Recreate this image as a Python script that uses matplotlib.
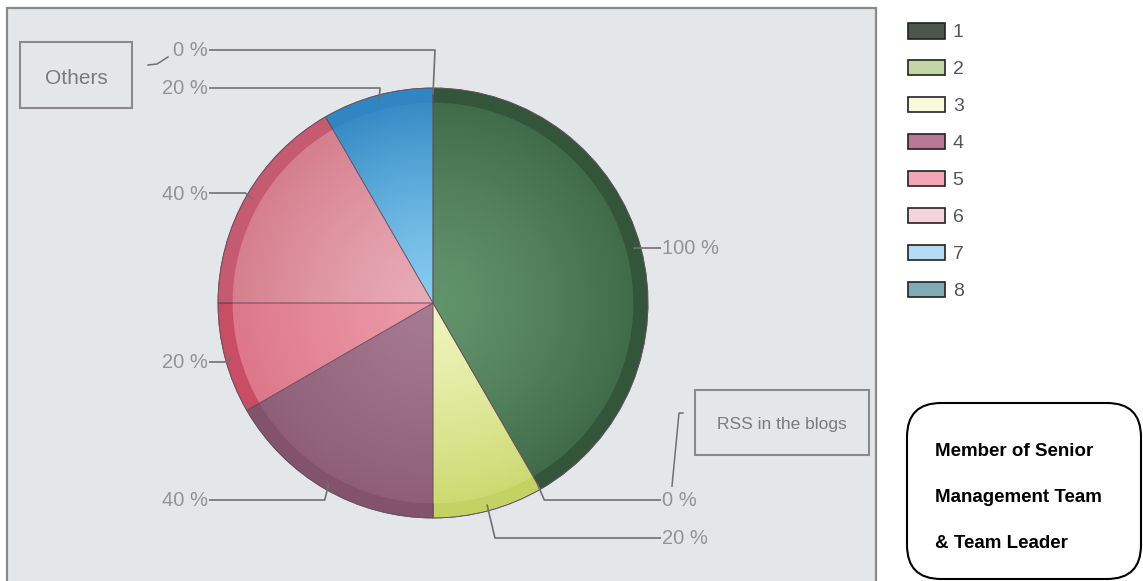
import numpy as np
import matplotlib
matplotlib.use("Agg")
import matplotlib.pyplot as plt
from matplotlib.patches import Rectangle, FancyBboxPatch, Patch
from matplotlib.colors import to_rgb

plt.rcParams['font.family'] = ['Liberation Sans', 'DejaVu Sans']

# data
slices = ['1', '2', '3', '4', '5', '6', '7', '8']
values = [5, 0, 1, 2, 1, 2, 1, 0]
legend_colors = ['#4b574c', '#c4d6a8', '#f6fad8', '#b87896', '#f4a6b6',
                 '#f6d4dc', '#b4dcf6', '#80aab4']
# slice shading: (centre, edge, rim)
shades = [('#62946b', '#3d6847', '#33563a'),
          ('#d0e0b8', '#b8cc98', '#b8cc98'),
          ('#eef5bc', '#c9d86a', '#c4d264'),
          ('#a67a90', '#8c5c76', '#83536c'),
          ('#ec9aa8', '#dc7488', '#c94d64'),
          ('#e8acb6', '#d47a8a', '#c65a70'),
          ('#86ccf0', '#2f86c2', '#2f86c2'),
          ('#8ab4bc', '#6a9aa4', '#6a9aa4')]
box_left = 'Others'
box_right = 'RSS in the blogs'
note_lines = ['Member of Senior', 'Management Team', '& Team Leader']

W, H = 1143, 581
def Y(y):
    return H - y

fig = plt.figure(figsize=(W / 100, H / 100), dpi=100)
ax = fig.add_axes([0, 0, 1, 1])
ax.axis('off')

# grey plot panel
ax.add_patch(Rectangle((7, Y(600)), 869, 592, facecolor='#e4e7ea',
                       edgecolor='#8a8a8a', lw=1.6, zorder=0))

cx, cy, R = 433, Y(303), 215
rim, _ = ax.pie(values, colors=[s[2] for s in shades], startangle=90,
                counterclock=False, center=(cx, cy), radius=R,
                wedgeprops=dict(edgecolor='#5c4c58', linewidth=0.6))
inner, _ = ax.pie(values, colors=['none'] * len(values), startangle=90,
                  counterclock=False, center=(cx, cy), radius=R * 0.932,
                  wedgeprops=dict(linewidth=0))

# radial gradient fill clipped to each inner wedge
n = 400
gx, gy = np.meshgrid(np.linspace(-1, 1, n), np.linspace(-1, 1, n))
t = np.clip(np.hypot(gx, gy), 0, 1)[..., None] ** 1.3
for w, (c0, c1, _) in zip(inner, shades):
    img = np.array(to_rgb(c0)) * (1 - t) + np.array(to_rgb(c1)) * t
    im = ax.imshow(img, extent=(cx - R, cx + R, cy - R, cy + R),
                   origin='lower', zorder=2, interpolation='bilinear')
    im.set_clip_path(w)
for w in rim:
    w.set_zorder(1)
ax.pie(values, colors=['none'] * len(values), startangle=90, counterclock=False,
       center=(cx, cy), radius=R,
       wedgeprops=dict(edgecolor='#6a5060', linewidth=0.6, alpha=0.7, zorder=3))

# percentage labels with leader lines
pct = [v / max(values) * 100 for v in values]
label_y = [248, 500, 538, 500, 362, 193, 88, 50]
side = ['r', 'r', 'r', 'l', 'l', 'l', 'l', 'l']
elbow_dx = [0, 7, 8, -4, -3, -7, 1, 2]
for w, p, ly, sd, dx in zip(rim, pct, label_y, side, elbow_dx):
    a = np.deg2rad((w.theta1 + w.theta2) / 2)
    ax0, ay0 = cx + R * 0.97 * np.cos(a), cy + R * 0.97 * np.sin(a)
    ex = ax0 + dx
    end = 661 if sd == 'r' else 209
    ax.plot([ax0, ex, end], [ay0, Y(ly), Y(ly)], color='#707070', lw=1.2,
            zorder=4, solid_capstyle='butt')
    ax.text(end + 1 if sd == 'r' else end - 1, Y(ly + 1), '%d %%' % p,
            ha='left' if sd == 'r' else 'right', va='center',
            fontsize=14.5, color='#939393', zorder=5)

# annotation boxes
ax.add_patch(Rectangle((20, Y(108)), 112, 66, facecolor='none',
                       edgecolor='#8a8a8a', lw=1.5, zorder=5))
ax.text(76, Y(79), box_left, ha='center', va='center', fontsize=15,
        color='#7a7a7a')
ax.plot([148, 157, 168], [Y(65), Y(64), Y(57)], color='#707070', lw=1.1)

ax.add_patch(Rectangle((695, Y(455)), 174, 65, facecolor='none',
                       edgecolor='#8a8a8a', lw=1.5, zorder=5))
ax.text(782, Y(425), box_right, ha='center', va='center', fontsize=12.5,
        color='#7a7a7a')
ax.plot([683, 679, 672], [Y(413), Y(413), Y(486)], color='#707070', lw=1.1)

# legend
handles = [Patch(facecolor=c, edgecolor='#222222', lw=1.2) for c in legend_colors]
ax.legend(handles, slices, loc='upper left',
          bbox_to_anchor=(908 / W, 1 - 23 / H), frameon=False,
          fontsize=14, handlelength=1.9, handleheight=0.85,
          handletextpad=0.4, labelspacing=0.95, borderpad=0,
          borderaxespad=0, labelcolor='#555555')

# note box
ax.add_patch(FancyBboxPatch((907, Y(579)), 234, 176,
                            boxstyle='round,pad=0,rounding_size=34',
                            facecolor='white', edgecolor='black', lw=1.5))
for i, line in enumerate(note_lines):
    ax.text(935, Y(451 + 46 * i), line, ha='left', va='center',
            fontsize=13.5, fontweight='bold', color='black')

ax.set_xlim(0, W)
ax.set_ylim(0, H)
fig.savefig('out.png', dpi=100)
